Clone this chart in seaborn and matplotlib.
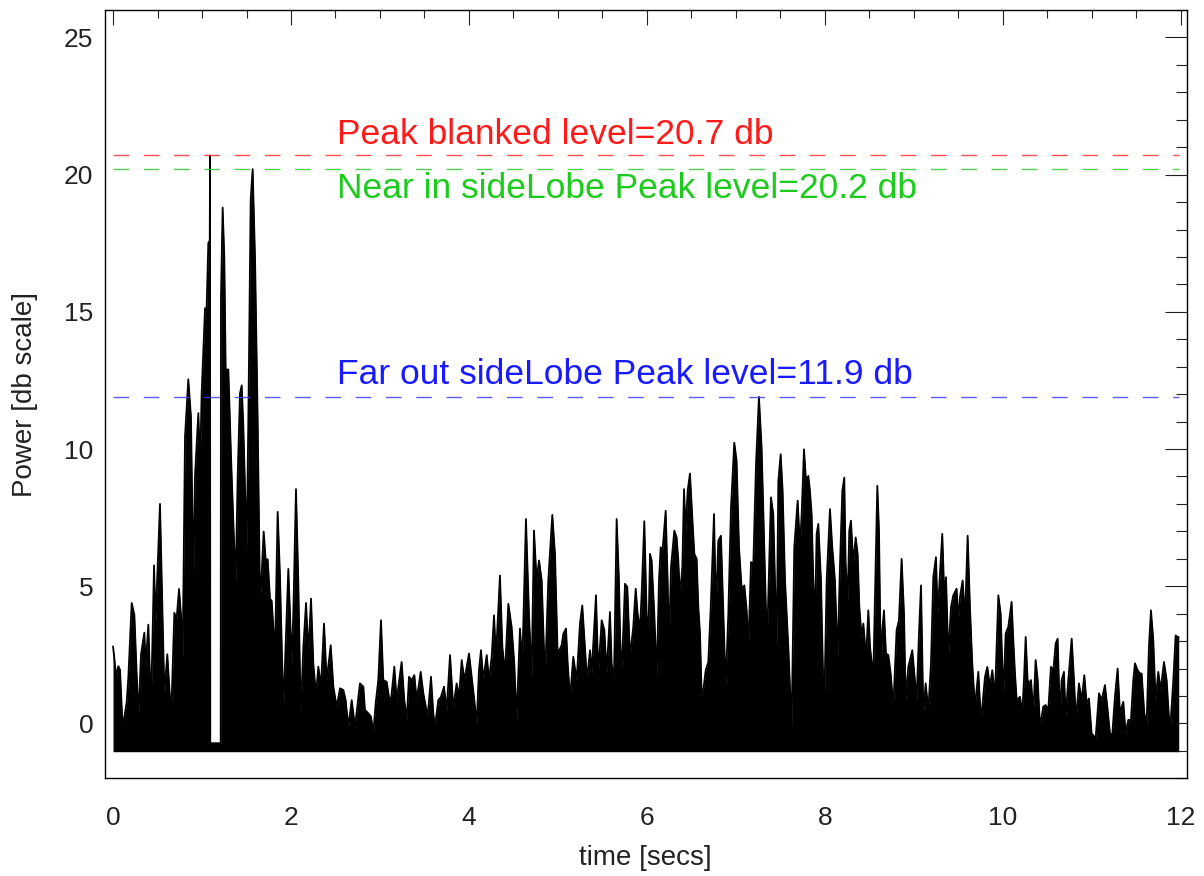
import numpy as np
import pandas as pd
import matplotlib
matplotlib.use("Agg")
import matplotlib.pyplot as plt
import seaborn as sns
from matplotlib.ticker import MultipleLocator

# ---------------- data (envelope of the power trace) -------------
time_a = [0.0, 0.015, 0.034, 0.060, 0.079, 0.105, 0.127, 0.154, 0.172, 0.210, 0.240, 0.266, 0.285,
          0.315, 0.352, 0.367, 0.397, 0.427, 0.461, 0.479, 0.498, 0.528, 0.554, 0.577, 0.610, 0.640,
          0.659, 0.689, 0.715, 0.742, 0.764, 0.783, 0.809, 0.846, 0.876, 0.903, 0.921, 0.959, 0.978,
          0.996, 1.034, 1.052, 1.071, 1.087, 1.090]
power_a = [2.81, 2.38, 1.73, 2.09, 1.95, 0.07, 0.22, 0.79, 1.66, 4.39, 3.96, 1.80, 0.22,
           2.52, 3.31, 2.09, 3.60, 0.50, 5.76, 3.67, 5.40, 8.00, 4.25, 1.08, 2.52, 0.94,
           0.79, 4.03, 3.82, 4.90, 3.96, 2.38, 10.45, 12.54, 11.17, 5.12, 9.01, 11.31, 9.29,
           12.03, 15.13, 15.13, 17.51, 17.6, 20.7]

# blanked interval around the main peak
time_blank = [1.093, 1.210]
power_blank = [-0.72, -0.72]

time_b = [1.213, 1.232, 1.251, 1.266, 1.296, 1.326, 1.352, 1.378, 1.401, 1.427, 1.446, 1.464,
          1.502, 1.521, 1.547, 1.569, 1.596, 1.625, 1.652, 1.670, 1.693, 1.715, 1.738, 1.764,
          1.783, 1.820, 1.850, 1.876, 1.914]
power_b = [15.49, 18.80, 16.93, 12.90, 12.90, 9.73, 7.35, 5.12, 9.01, 12.03, 12.32, 10.88,
           6.41, 11.17, 19.09, 20.20, 16.93, 11.17, 4.39, 5.40, 6.99, 5.98, 5.98, 4.54,
           4.47, 2.52, 7.71, 5.40, 0.50]

time_c = [1.970, 1.989, 2.007, 2.026, 2.056, 2.082, 2.109, 2.139, 2.169, 2.195,
          2.225, 2.251, 2.281, 2.307, 2.337, 2.371, 2.401, 2.446, 2.476, 2.513,
          2.551, 2.588, 2.614, 2.644, 2.682, 2.719, 2.775, 2.813, 2.831, 2.869,
          2.899, 2.925, 2.951, 2.981, 3.011, 3.037, 3.075, 3.101, 3.124, 3.161,
          3.187, 3.243, 3.273, 3.300, 3.326, 3.356, 3.386, 3.412, 3.457, 3.487,
          3.535, 3.573, 3.599, 3.618, 3.655, 3.685, 3.719, 3.749, 3.787, 3.824,
          3.861, 3.888, 3.918, 3.948, 4.000]
power_c = [5.63, 4.00, 2.18, 4.00, 8.54, 5.21, 0.37, 2.79, 4.39, 2.55,
           4.55, 2.18, 1.03, 2.07, 1.34, 3.64, 1.58, 2.85, 1.34, 0.61,
           1.28, 1.22, 0.85, -0.12, 0.85, -0.12, 1.46, 1.34, 0.49, 0.37,
           0.25, -0.36, 0.73, 1.58, 3.76, 1.58, 1.52, 0.97, 0.85, 2.07,
           0.85, 2.24, 0.85, 0.13, 1.70, 1.58, 1.76, 0.85, 1.88, 1.10,
           0.25, 1.70, 0.37, -0.12, 0.85, 0.97, 1.34, 0.49, 2.49, 0.55,
           1.46, 0.97, 2.31, 1.58, 2.55]

time_d = [4.030, 4.060, 4.086, 4.112, 4.135, 4.161, 4.199, 4.225, 4.255, 4.281,
          4.303, 4.348, 4.375, 4.404, 4.442, 4.479, 4.509, 4.535, 4.573, 4.599,
          4.640, 4.674, 4.704, 4.730, 4.760, 4.787, 4.817, 4.854, 4.891, 4.936,
          4.966, 4.996, 5.041, 5.060, 5.090, 5.109, 5.135, 5.172, 5.210, 5.247,
          5.273, 5.303, 5.326, 5.360, 5.378, 5.427, 5.453, 5.491, 5.521, 5.547,
          5.584, 5.603, 5.629, 5.659, 5.685, 5.708, 5.734, 5.753, 5.779, 5.809,
          5.846, 5.873, 5.895, 5.921, 5.940, 5.970]
power_d = [1.70, 0.85, -0.05, 1.94, 2.67, 1.58, 2.49, 1.58, 2.43, 3.94,
           2.43, 5.39, 2.79, 1.82, 4.36, 3.52, 2.18, 0.13, 3.46, 2.18,
           7.45, 4.00, 1.70, 7.03, 5.21, 5.94, 5.21, 1.58, 5.21, 7.60,
           6.18, 2.55, 2.85, 3.27, 3.46, 2.18, 0.91, 2.43, 1.58, 3.64,
           4.30, 2.79, 1.58, 2.67, 1.82, 4.67, 1.82, 3.76, 3.40, 1.82,
           4.06, 2.18, 1.58, 7.45, 5.21, 1.58, 3.40, 5.09, 4.97, 2.43,
           3.52, 4.91, 4.00, 3.40, 4.73, 7.37]

time_e = [5.996, 6.015, 6.034, 6.052, 6.082, 6.109, 6.135, 6.154, 6.172, 6.210,
          6.232, 6.247, 6.270, 6.307, 6.333, 6.352, 6.371, 6.397, 6.416, 6.434,
          6.457, 6.483, 6.509, 6.532, 6.558, 6.577, 6.596, 6.614, 6.633, 6.660,
          6.689, 6.715, 6.753, 6.775, 6.801, 6.831, 6.858, 6.884, 6.914, 6.944,
          6.981, 7.007, 7.034, 7.064, 7.094, 7.120, 7.139, 7.169, 7.195, 7.225,
          7.258, 7.288, 7.318, 7.348, 7.393, 7.419, 7.457, 7.476, 7.502, 7.524,
          7.551, 7.588, 7.625, 7.655, 7.693, 7.719, 7.738, 7.764, 7.787, 7.813,
          7.831, 7.850, 7.869, 7.888, 7.906, 7.925, 7.955, 7.989, 8.019, 8.056]
power_e = [4.00, 3.03, 6.18, 5.94, 4.00, 1.70, 5.21, 6.42, 6.18, 7.75,
           5.21, 2.79, 5.70, 7.03, 6.78, 5.94, 4.61, 5.70, 8.54, 7.03,
           8.48, 9.11, 7.51, 6.18, 6.00, 4.24, 3.27, 1.03, 1.22, 1.94,
           2.24, 4.12, 7.63, 4.12, 6.66, 6.84, 4.00, 1.34, 4.00, 7.87,
           10.23, 9.57, 6.42, 4.91, 5.03, 4.12, 2.79, 5.88, 5.82, 9.45,
           11.90, 10.05, 6.42, 2.79, 8.24, 7.63, 2.79, 8.84, 9.81, 8.48,
           5.21, 2.79, -0.12, 6.42, 8.12, 6.42, 7.63, 9.99, 8.84, 9.02,
           8.48, 7.63, 5.21, 3.76, 6.90, 7.27, 5.21, 0.13, 5.21, 7.81]

time_f = [8.082, 8.112, 8.142, 8.169, 8.195, 8.217, 8.232, 8.255, 8.273, 8.292,
          8.318, 8.345, 8.367, 8.386, 8.412, 8.431, 8.449, 8.468, 8.487, 8.506,
          8.543, 8.562, 8.588, 8.607, 8.629, 8.644, 8.663, 8.685, 8.712, 8.738,
          8.768, 8.805, 8.831, 8.861, 8.888, 8.906, 8.936, 8.981, 9.011, 9.030,
          9.056, 9.079, 9.105, 9.131, 9.161, 9.191, 9.217, 9.247, 9.266, 9.292,
          9.318, 9.341, 9.360, 9.386, 9.416, 9.442, 9.479, 9.498, 9.517, 9.547,
          9.573, 9.603, 9.629, 9.655, 9.685, 9.723, 9.753, 9.798, 9.824, 9.854,
          9.880, 9.910, 9.948, 9.974, 10.004, 10.030, 10.060, 10.097]
power_f = [6.42, 5.21, 2.43, 5.82, 8.48, 8.96, 5.82, 4.46, 7.03, 7.39,
           5.82, 6.78, 6.18, 4.24, 3.15, 3.64, 2.91, 2.79, 4.12, 2.79,
           1.70, 4.61, 8.66, 7.03, 1.58, 3.40, 4.12, 2.55, 2.49, 1.82,
           0.61, 3.40, 3.76, 6.00, 4.00, 0.85, 2.06, 2.67, 1.58, 0.85,
           3.27, 5.03, 0.37, 1.46, 0.49, 2.18, 5.33, 6.06, 4.00, 5.45,
           6.91, 4.61, 5.33, 2.43, 4.24, 4.67, 4.91, 3.76, 4.61, 5.21,
           3.76, 6.84, 4.24, 2.18, 0.61, 1.88, 0.07, 1.70, 2.06, 1.34,
           1.94, 0.97, 4.67, 4.00, 0.97, 3.27, 3.52, 4.43]

time_g = [10.116, 10.135, 10.154, 10.172, 10.191, 10.217, 10.236, 10.255, 10.277, 10.292,
          10.315, 10.341, 10.367, 10.390, 10.416, 10.453, 10.479, 10.509, 10.539, 10.566,
          10.592, 10.614, 10.640, 10.659, 10.685, 10.704, 10.734, 10.772, 10.798, 10.820,
          10.854, 10.884, 10.914, 10.940, 10.966, 10.996, 11.041, 11.079, 11.109, 11.146,
          11.176, 11.202, 11.228, 11.258, 11.288, 11.315, 11.352, 11.378, 11.408, 11.438,
          11.464, 11.483, 11.513, 11.539, 11.558, 11.588, 11.614, 11.640, 11.663, 11.689,
          11.715, 11.745, 11.772, 11.809, 11.839, 11.876, 11.914, 11.940, 11.963, 11.975]
power_g = [3.03, 1.82, 0.85, 0.91, 0.97, 0.37, 1.58, 3.15, 1.58, 1.46,
           1.58, 0.37, 2.31, 1.58, -0.12, 0.61, 0.67, 0.49, 2.06, 1.94,
           2.91, 3.09, 0.25, 1.58, 1.88, 0.25, 1.58, 3.09, 1.58, 0.13,
           1.46, 0.85, 1.76, 0.73, 0.91, -0.36, -0.54, 1.10, 0.85, 1.40,
           0.49, -0.36, -0.42, 0.97, 2.00, 0.37, 0.79, -0.36, 0.13, 0.13,
           1.58, 2.19, 1.94, 1.82, 1.82, 0.37, 0.01, 2.79, 4.12, 3.03,
           0.85, 1.88, 1.22, 2.24, 1.58, -0.36, 1.58, 3.21, 3.15, 3.15]

noise_floor = -1.03

level_values = [20.7, 20.2, 11.9]
level_labels = ["Peak blanked level=20.7 db",
                "Near in sideLobe Peak level=20.2 db",
                "Far out sideLobe Peak level=11.9 db"]
level_colors = ["#ff1a1a", "#1ccc1c", "#1a1aff"]
line_colors = ["#ff3030", "#30c830", "#4040ff"]
text_baselines = [21.13, 19.16, 12.37]
text_start = 2.517

x_ticks = [0, 2, 4, 6, 8, 10, 12]
y_ticks = [0, 5, 10, 15, 20, 25]

# ---------------- assemble ----------------
times = time_a + time_blank + time_b + time_c + time_d + time_e + time_f + time_g
powers = power_a + power_blank + power_b + power_c + power_d + power_e + power_f + power_g
assert len(times) == len(powers)
df = pd.DataFrame({"time": times, "power": powers})

# ---------------- figure ----------------
sns.set_style("white")
plt.rcParams["font.family"] = ["Liberation Sans", "DejaVu Sans"]

fig = plt.figure(figsize=(12.04, 8.76), dpi=100)
ax = fig.add_axes([0.0868, 0.1115, 0.8988, 0.8771])

ax.fill_between(df["time"], noise_floor, df["power"], color="black", linewidth=0)
sns.lineplot(data=df, x="time", y="power", color="black", linewidth=1.3,
             estimator=None, sort=False, ax=ax)

t0, t1 = df["time"].iloc[0], df["time"].iloc[-1]
for val, lc in zip(level_values, line_colors):
    ax.hlines(val, t0, t1, colors=lc, linewidth=1.0, alpha=0.85,
              linestyles=(0, (11.2, 10.6)))

for ty, lab, tc in zip(text_baselines, level_labels, level_colors):
    ax.text(text_start, ty, lab, color=tc, fontsize=25.5, ha="left", va="baseline")

ax.set_xlim(-0.0955, 12.064)
ax.set_ylim(-2, 26)
ax.set_xticks(x_ticks)
ax.set_yticks(y_ticks)
ax.xaxis.set_minor_locator(MultipleLocator(0.5))
ax.yaxis.set_minor_locator(MultipleLocator(1))

ax.tick_params(axis="both", which="both", direction="in", top=True, right=True,
               colors="#222222", labelcolor="#222222", width=0.8)
ax.tick_params(axis="x", which="major", length=10.8, labelsize=19, pad=20)
ax.tick_params(axis="x", which="minor", length=5.4)
ax.tick_params(axis="y", which="major", length=15.6, labelsize=19, pad=8)
ax.tick_params(axis="y", which="minor", length=7.9)

for s in ax.spines.values():
    s.set_color("black")
    s.set_linewidth(1.0)

ax.set_xlabel("time [secs]", fontsize=20, color="#222222")
ax.set_ylabel("Power [db scale]", fontsize=20, color="#222222")
ax.xaxis.set_label_coords(0.5, -0.087)
ax.yaxis.set_label_coords(-0.0615, 0.5)

fig.savefig("out.png", dpi=100)
